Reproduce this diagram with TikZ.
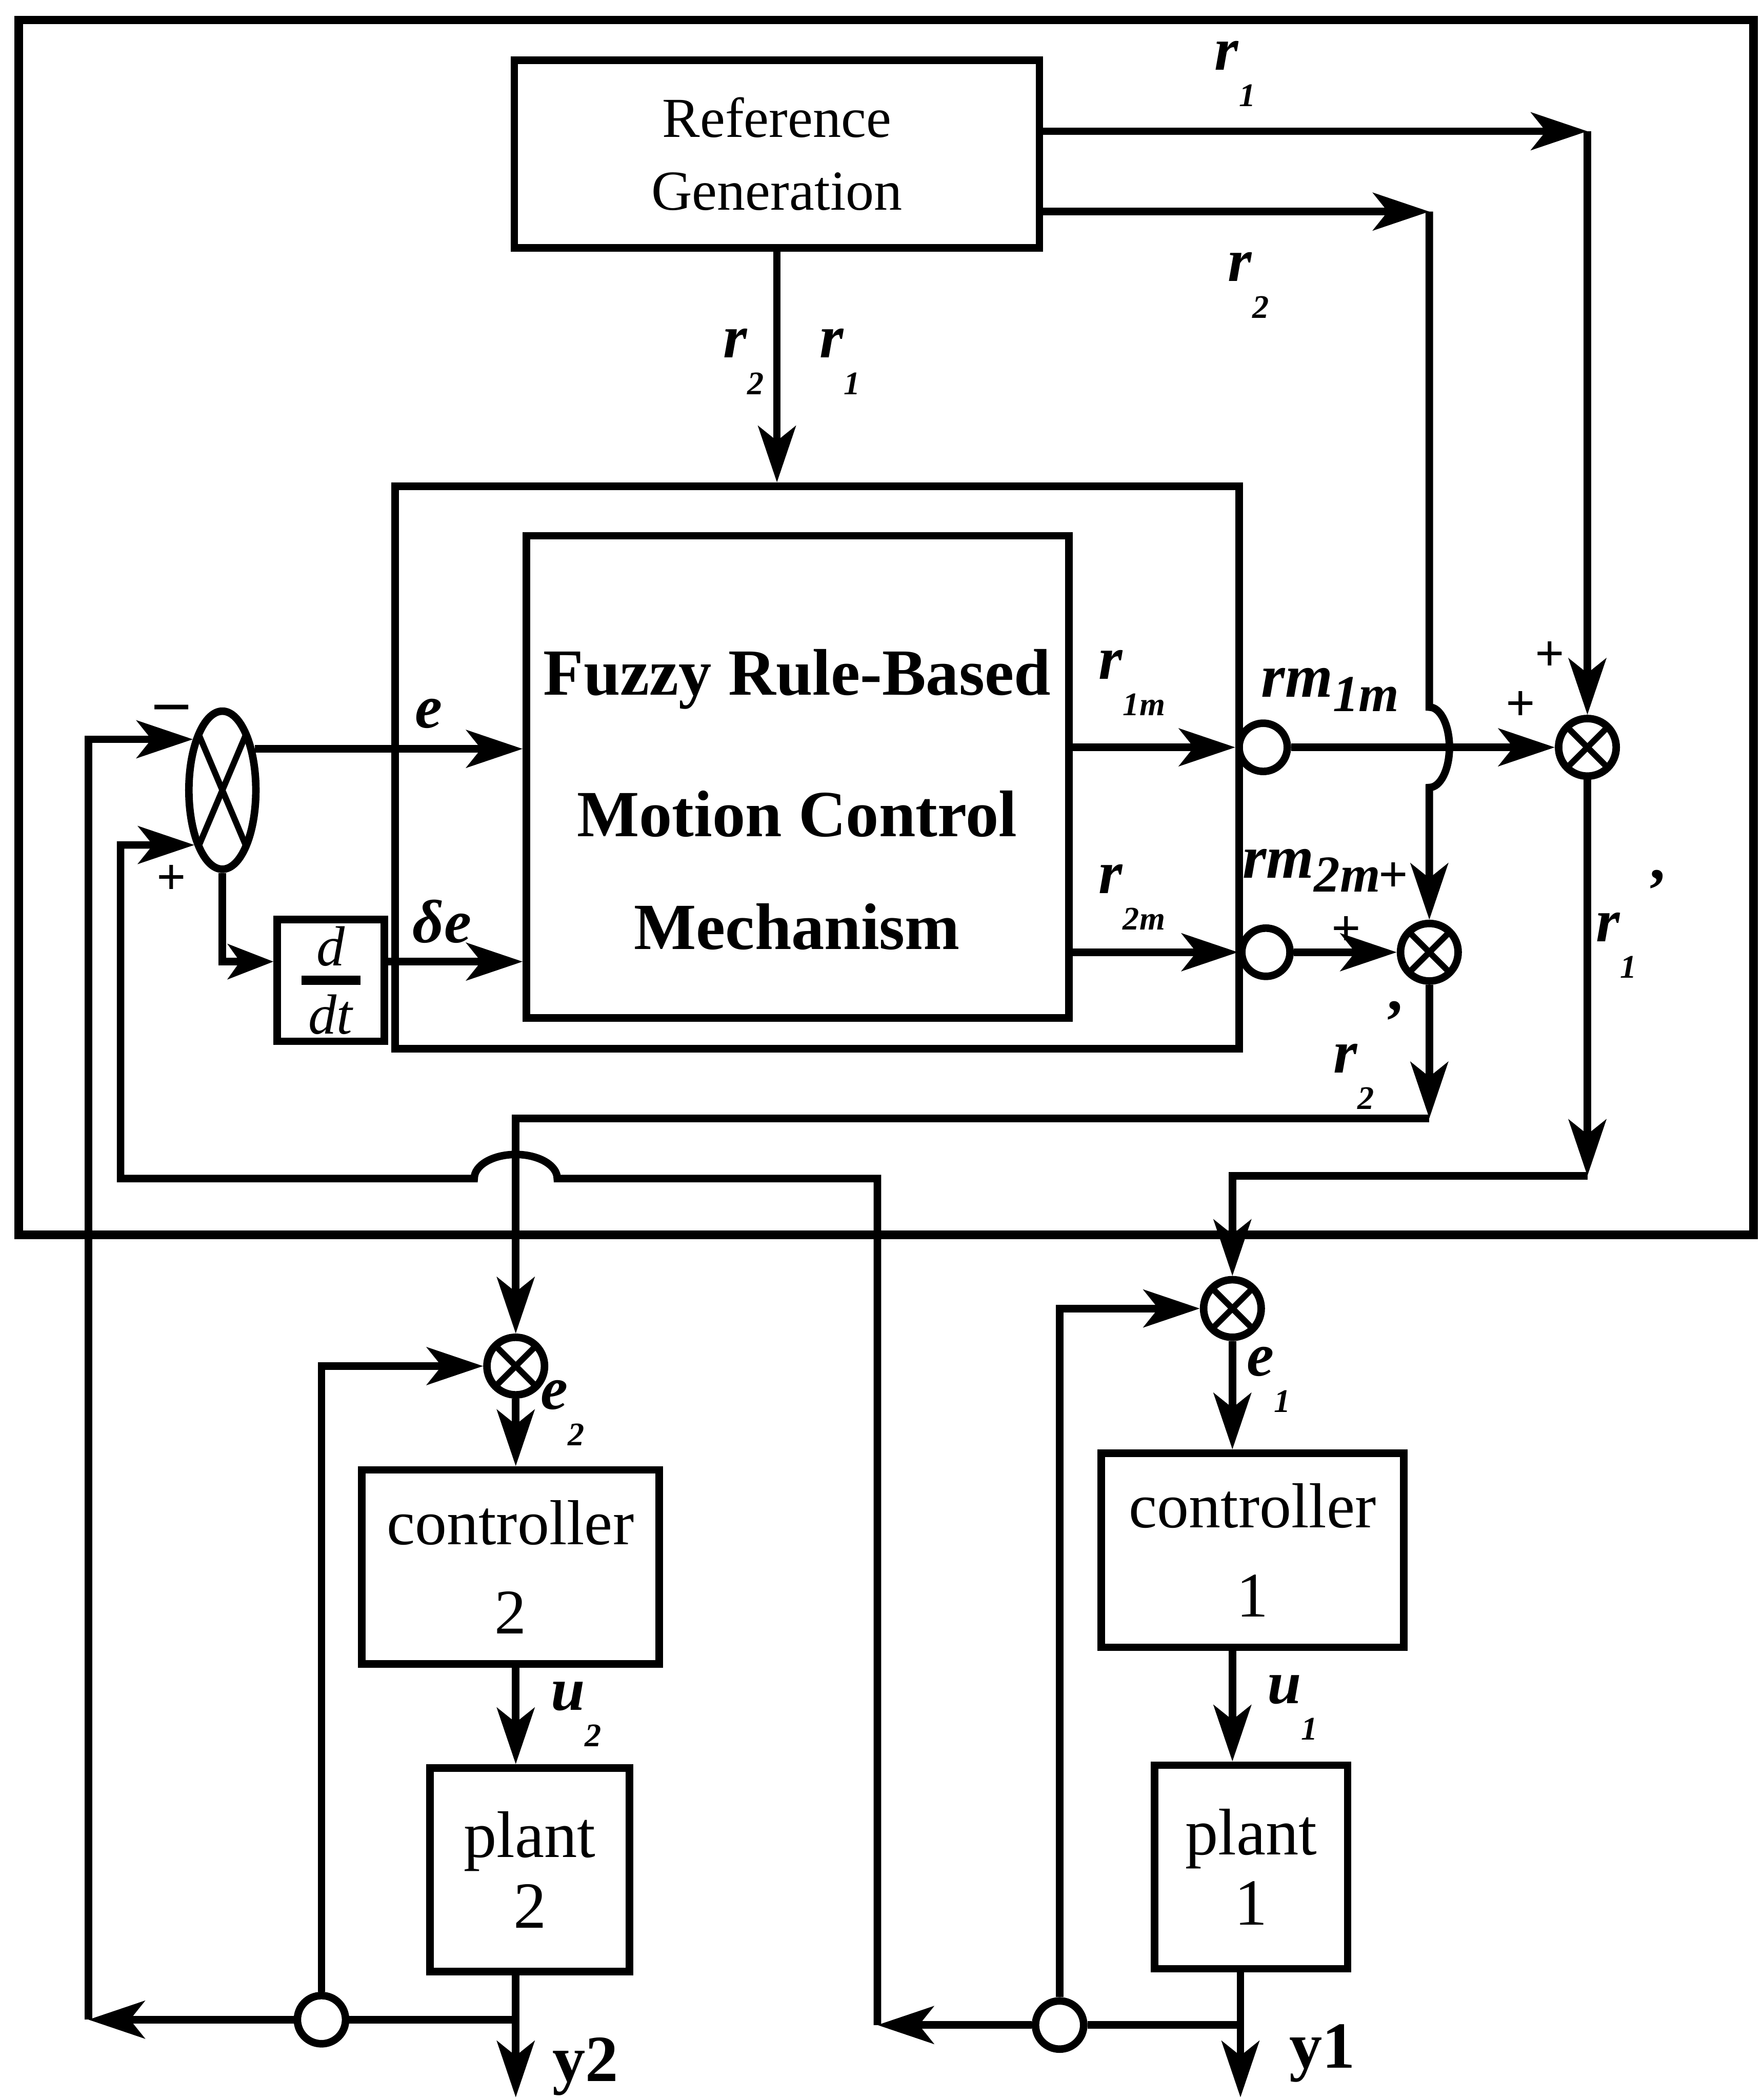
\documentclass[tikz,border=0pt]{standalone}
\usepackage{fontspec}
\setmainfont{Liberation Serif}
\usetikzlibrary{positioning,arrows.meta,shapes.geometric,calc}
\newcommand{\rsb}[2]{\textbf{\textit{#1}}\raisebox{-1.3ex}{\fontsize{7}{7}\selectfont\textbf{\textit{#2}}}}
\newcommand{\rmsb}[2]{\textbf{\textit{#1}}\raisebox{-0.5ex}{\fontsize{11}{11}\selectfont\textbf{\textit{#2}}}}
\newcommand{\prm}{\,\raisebox{1.1ex}{\textbf{’}}}

\tikzset{
  blk/.style={draw,line width=1.6pt,inner sep=0pt},
  arr/.style={-{Stealth[length=4.2mm,width=2.8mm,inset=1.1mm]}},
  sarr/.style={-{Stealth[length=3.4mm,width=2.6mm,inset=0.9mm]}},
  xcross/.style={path picture={\draw[line width=1.3pt]
      (path picture bounding box.north west) -- (path picture bounding box.south east)
      (path picture bounding box.north east) -- (path picture bounding box.south west);}},
  xsum/.style={draw,circle,line width=1.6pt,minimum size=0.43cm,inner sep=0pt,xcross},
  tap/.style={draw,circle,line width=1.6pt,minimum size=0.36cm,inner sep=0pt},
  lbl/.style={font=\fontsize{13}{15}\selectfont,inner sep=0pt},
  sgn/.style={font=\fontsize{11}{13}\selectfont\bfseries,inner sep=0pt},
}

\begin{document}
\begin{tikzpicture}[line width=1.6pt]
\useasboundingbox (0,0) rectangle (13.16,-15.68);

% supervisor frame
\draw[line width=1.8pt] (0.14,-0.15) rectangle (13.09,-9.22);

% blocks
\node[blk,minimum width=3.92cm,minimum height=1.40cm,align=center,
  font=\fontsize{12}{15.4}\selectfont] (refgen) at (5.80,-1.15) {Reference\\Generation};
\node[blk,minimum width=6.30cm,minimum height=4.20cm] (frmc) at (6.10,-5.73) {};
\node[blk,minimum width=4.05cm,minimum height=3.60cm] (rules) at (5.955,-5.80) {};
\node[align=center,font=\fontsize{14}{17}\selectfont\bfseries] (rulestext) at (5.95,-5.97)
  {Fuzzy Rule-Based\\[13pt]Motion Control\\[7pt]Mechanism};
\node[blk,minimum width=0.80cm,minimum height=0.91cm,font=\fontsize{12}{14}\selectfont] (ddt) at (2.47,-7.32)
  {$\textstyle{\textit{d}\above 2pt\hbox to 0.44cm{\hss\textit{dt}\hss}}$};
\node[draw,ellipse,minimum width=0.50cm,minimum height=1.18cm,inner sep=0pt,xcross] (sumL) at (1.66,-5.90) {};

\node[tap] (rm1) at (9.43,-5.58) {};
\node[tap] (rm2) at (9.45,-7.11) {};
\node[xsum] (sum1) at (11.85,-5.58) {};
\node[xsum] (sum2) at (10.67,-7.11) {};
\node[xsum] (sumE2) at (3.85,-10.20) {};
\node[xsum] (sumE1) at (9.20,-9.77) {};

\node[blk,minimum width=2.22cm,minimum height=1.45cm,align=center,
  font=\fontsize{13.5}{19}\selectfont] (ctrl2) at (3.81,-11.70) {controller\\2};
\node[blk,minimum width=1.49cm,minimum height=1.52cm,align=center,
  font=\fontsize{14}{15}\selectfont] (plant2) at (3.955,-13.96) {plant\\2};
\node[blk,minimum width=2.26cm,minimum height=1.45cm,align=center,
  font=\fontsize{13.5}{19}\selectfont] (ctrl1) at (9.35,-11.575) {controller\\1};
\node[blk,minimum width=1.44cm,minimum height=1.52cm,align=center,
  font=\fontsize{14}{15}\selectfont] (plant1) at (9.34,-13.94) {plant\\1};

\node[tap] (tap2) at (2.40,-15.08) {};
\node[tap] (tap1) at (7.91,-15.12) {};

% corners
\coordinate (r1c) at (11.85,-0.98);
\coordinate (r2c) at (10.67,-1.58);
\coordinate (r1p) at (11.85,-8.78);
\coordinate (r2p) at (10.67,-8.35);
\coordinate (cL2) at (0.66,-15.08);
\coordinate (cL1) at (6.55,-15.12);
\coordinate (fb1) at (6.55,-8.80);
\coordinate (fb1l) at (0.90,-8.80);
\coordinate (out2) at (3.85,-15.66);
\coordinate (out1) at (9.26,-15.66);

% reference signals
\draw[arr] (refgen.south) -- (refgen.south |- frmc.north);
\draw[arr] (refgen.east |- r1c) -- (r1c);
\draw[arr] (r1c) -- (sum1.north);
\draw[arr] (refgen.east |- r2c) -- (r2c);
\draw[arr] (r2c) -- ($(r2c |- rm1)+(0,0.30)$)
  arc[start angle=90,end angle=-90,x radius=0.15,y radius=0.30] -- (sum2.north);

% error and its derivative
\draw[arr] (sumL.52) -- (sumL.52 -| rules.west);
\draw[sarr] (sumL.south) |- ([yshift=0.14cm]ddt.west);
\draw[arr] ([yshift=0.14cm]ddt.east) -- ([yshift=0.14cm]ddt.east -| rules.west);

% modified references
\draw[arr] (rules.east |- rm1) -- (rm1.west);
\draw[arr] (rules.east |- rm2) -- (rm2.west);
\draw[arr] (rm1.east) -- (sum1.west);
\draw[arr] (rm2.east) -- (sum2.west);
\draw[arr] (sum1.south) -- (r1p);
\draw[arr] (r1p) -| (sumE1.north);
\draw[arr] (sum2.south) -- (r2p);
\draw[arr] (r2p) -| (sumE2.north);

% loop 2
\draw[arr] (sumE2.south) -- (sumE2.south |- ctrl2.north);
\draw[arr] (sumE2 |- ctrl2.south) -- (sumE2 |- plant2.north);
\draw[arr] (sumE2 |- plant2.south) -- (out2);
\draw (sumE2 |- tap2) -- (tap2.east);
\draw[arr] (tap2.west) -- (cL2);
\draw[arr] (cL2) |- (sumL.120);
\draw[arr] (tap2.north) |- (sumE2.west);

% loop 1
\draw[arr] (sumE1.south) -- (sumE1.south |- ctrl1.north);
\draw[arr] (sumE1 |- ctrl1.south) -- (sumE1 |- plant1.north);
\draw[arr] (out1 |- plant1.south) -- (out1);
\draw (out1 |- tap1) -- (tap1.east);
\draw[arr] (tap1.west) -- (cL1);
\draw[arr] (cL1) -- (fb1) -- ($(fb1 -| sumE2)+(0.31,0)$)
  arc[start angle=0,end angle=180,x radius=0.31,y radius=0.18] -- (fb1l) |- (sumL.243);
\draw[arr] (tap1.north) |- (sumE1.west);

% labels
\node[lbl] (lr2a) at (5.55,-2.70) {\rsb{r}{2}};
\node[lbl] (lr1a) at (6.27,-2.70) {\rsb{r}{1}};
\node[lbl] (lr1b) at (9.22,-0.55) {\rsb{r}{1}};
\node[lbl] (lr2b) at (9.32,-2.13) {\rsb{r}{2}};
\node[lbl] (le) at (3.20,-5.33) {\textbf{\textit{e}}};
\node[lbl] (lde) at (3.30,-6.88) {\textbf{\textit{δe}}};
\node[lbl] (lr1m) at (8.45,-5.10) {\rsb{r}{1m}};
\node[lbl] (lr2m) at (8.45,-6.70) {\rsb{r}{2m}};
\node[lbl] (lrm1) at (9.93,-5.15) {\rmsb{rm}{1m}};
\node[lbl] (lrm2) at (9.79,-6.50) {\rmsb{rm}{2m}};
\node[sgn] (p1a) at (11.35,-5.27) {+};
\node[sgn] (p1b) at (11.57,-4.90) {+};
\node[sgn] (p2a) at (10.40,-6.55) {+};
\node[sgn] (p2b) at (10.05,-6.95) {+};
\node[sgn,font=\fontsize{14}{14}\selectfont\bfseries] (mL) at (1.28,-5.33) {–};
\node[sgn] (pL) at (1.28,-6.57) {+};
\node[lbl] (lr1p) at (12.18,-6.90) {\rsb{r}{1}\prm};
\node[lbl] (lr2p) at (10.22,-7.88) {\rsb{r}{2}\prm};
\node[lbl] (le2) at (4.20,-10.55) {\rsb{e}{2}};
\node[lbl] (le1) at (9.47,-10.30) {\rsb{e}{1}};
\node[lbl] (lu2) at (4.30,-12.80) {\rsb{u}{2}};
\node[lbl] (lu1) at (9.65,-12.75) {\rsb{u}{1}};
\node[lbl,font=\fontsize{14}{16}\selectfont\bfseries] (ly2) at (4.37,-15.43) {y2};
\node[lbl,font=\fontsize{14}{16}\selectfont\bfseries] (ly1) at (9.87,-15.33) {y1};
\end{tikzpicture}
\end{document}
